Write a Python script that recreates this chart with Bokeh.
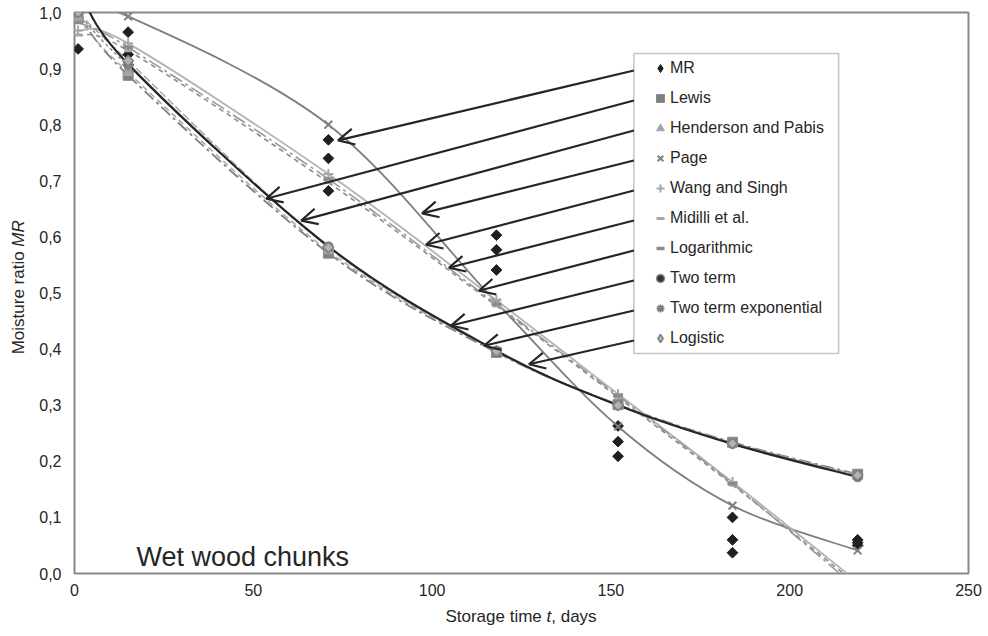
import numpy as np
from bokeh.plotting import figure
from bokeh.layouts import column, row
from bokeh.models import (Range1d, FixedTicker, CustomJSTickFormatter, Legend, LegendItem,
                          Label, Arrow, OpenHead, BoxAnnotation, ColumnDataSource)
from bokeh.embed import file_html
from bokeh.resources import INLINE

# ---------------- data ----------------
times = [1, 15, 71, 118, 152, 184, 219]
mr_obs = [
    [1.000, 1.000, 0.935],
    [0.965, 0.925, 0.907],
    [0.773, 0.740, 0.682],
    [0.603, 0.577, 0.541],
    [0.263, 0.235, 0.209],
    [0.100, 0.060, 0.037],
    [0.060, 0.055, 0.050],
]
lewis = [1.000, 0.888, 0.571, 0.394, 0.301, 0.234, 0.177]
henderson = [0.990, 0.893, 0.575, 0.396, 0.301, 0.233, 0.176]
page = [1.000, 0.993, 0.800, 0.483, 0.262, 0.121, 0.041]
wang_singh = [0.968, 0.945, 0.712, 0.487, 0.320, 0.163, -0.015]
midilli = [0.960, 0.932, 0.697, 0.477, 0.314, 0.158, -0.020]
logarithmic = [0.982, 0.938, 0.703, 0.480, 0.317, 0.160, -0.027]
two_term = [1.045, 0.908, 0.583, 0.397, 0.300, 0.231, 0.172]
two_term_exp = [1.000, 0.905, 0.582, 0.397, 0.300, 0.232, 0.174]
logistic = [1.000, 0.914, 0.581, 0.396, 0.300, 0.232, 0.175]

series_names = ["MR", "Lewis", "Henderson and Pabis", "Page", "Wang and Singh",
                "Midilli et al.", "Logarithmic", "Two term", "Two term exponential", "Logistic"]

# where the legend arrows point (storage time, MR)
arrow_tip_t = [73.7, 53.6, 63.4, 97.2, 98.3, 104.7, 113.1, 105.3, 114.5, 127.1]
arrow_tip_mr = [0.772, 0.668, 0.629, 0.642, 0.586, 0.545, 0.504, 0.442, 0.406, 0.373]

x_ticks = [0, 50, 100, 150, 200, 250]
y_ticks = [0.0, 0.1, 0.2, 0.3, 0.4, 0.5, 0.6, 0.7, 0.8, 0.9, 1.0]

# ---------------- layout (pixels) ----------------
W, H = 988, 636
YLAB_W = 36            # strip holding the y-axis title
XLAB_H = 33            # strip holding the x-axis title
PW, PH = W - YLAB_W, H - XLAB_H
BL, BR, BT, BB = 73 - YLAB_W, 20, 12, 30
FW, FH = PW - BL - BR, PH - BT - BB
FRAME_L = YLAB_W + BL  # frame left in page pixels
X0, X1, Y0, Y1 = 0, 250, 0, 1


def px2x(px):
    return X0 + (px - FRAME_L) * (X1 - X0) / FW


def px2y(py):
    return Y0 + (BT + FH - py) * (Y1 - Y0) / FH


FONT = "Liberation Sans"
TXT = "#262626"

p = figure(width=PW, height=PH, x_range=Range1d(X0, X1), y_range=Range1d(Y0, Y1),
           output_backend="svg", toolbar_location=None,
           min_border_left=BL, min_border_right=BR, min_border_top=BT, min_border_bottom=BB)
p.background_fill_color = "white"
p.border_fill_color = "white"
p.outline_line_color = "#898989"
p.outline_line_width = 2
p.xgrid.visible = False
p.ygrid.visible = False

p.xaxis.ticker = FixedTicker(ticks=x_ticks)
p.yaxis.ticker = FixedTicker(ticks=y_ticks)
p.yaxis.formatter = CustomJSTickFormatter(code="return tick.toFixed(1).replace('.', ',');")
for ax in (p.xaxis, p.yaxis):
    ax.axis_line_color = None
    ax.major_tick_line_color = None
    ax.minor_tick_line_color = None
    ax.major_tick_out = 0
    ax.major_tick_in = 0
    ax.minor_tick_out = 0
    ax.major_label_text_font = FONT
    ax.major_label_text_font_size = "16px"
    ax.major_label_text_color = TXT
p.yaxis.major_label_standoff = 13
p.xaxis.major_label_standoff = 10


def smooth(xs, ys):
    n = len(xs)
    P = list(zip(xs, ys))
    d = dict(x0=[], y0=[], x1=[], y1=[], cx0=[], cy0=[], cx1=[], cy1=[])
    for i in range(n - 1):
        a = P[max(i - 1, 0)]
        b = P[i]
        c = P[i + 1]
        e = P[min(i + 2, n - 1)]
        d["x0"].append(b[0]); d["y0"].append(b[1])
        d["x1"].append(c[0]); d["y1"].append(c[1])
        d["cx0"].append(b[0] + (c[0] - a[0]) / 6); d["cy0"].append(b[1] + (c[1] - a[1]) / 6)
        d["cx1"].append(c[0] - (e[0] - b[0]) / 6); d["cy1"].append(c[1] - (e[1] - b[1]) / 6)
    return ColumnDataSource(d)


line_specs = [
    (lewis, "#7f7f7f", 1.8, "12 4 3 4"),
    (henderson, "#a6a6a6", 1.5, "6 4"),
    (page, "#7f7f7f", 1.8, "solid"),
    (wang_singh, "#b3b3b3", 1.8, "solid"),
    (midilli, "#8c8c8c", 1.6, "5 4"),
    (logarithmic, "#999999", 1.6, "14 4 3 4"),
    (two_term_exp, "#8c8c8c", 1.5, "3 3"),
    (logistic, "#a6a6a6", 1.5, "8 3"),
    (two_term, "#262626", 2.2, "solid"),
]
for vals, col, lw, dash in line_specs:
    p.bezier(x0="x0", y0="y0", x1="x1", y1="y1", cx0="cx0", cy0="cy0", cx1="cx1", cy1="cy1",
             source=smooth(times, vals), line_color=col, line_width=lw, line_dash=dash)

# ---------------- markers ----------------
mr_t = [t for t, grp in zip(times, mr_obs) for _ in grp]
mr_v = [v for grp in mr_obs for v in grp]

legend_renderers = []

# MR: the legend uses a (hidden, small) diamond renderer; the plot shows square diamonds
legend_renderers.append(p.scatter(mr_t, mr_v, marker="diamond", size=5,
                                  fill_color="#1f1f1f", line_color="#1f1f1f"))
p.scatter(mr_t, mr_v, marker="square", angle=np.pi / 4, size=7.6,
          fill_color="#1f1f1f", line_color="#1f1f1f")

marker_specs = [
    (lewis, dict(marker="square", size=10, fill_color="#7f7f7f", line_color="#8c8c8c", line_width=1)),
    (henderson, dict(marker="triangle", size=10, fill_color="#a6a6a6", line_color="#a6a6a6", line_width=1)),
    (page, dict(marker="x", size=11, line_color="#7f7f7f", line_width=2)),
    (wang_singh, dict(marker="cross", size=10, line_color="#a6a6a6", line_width=2)),
    (midilli, dict(marker="dash", size=8, line_color="#a6a6a6", line_width=3)),
    (logarithmic, dict(marker="dash", size=10, line_color="#8c8c8c", line_width=3.5)),
    (two_term, dict(marker="circle", size=9, fill_color="#333333", line_color="#8c8c8c", line_width=1.5)),
    (two_term_exp, dict(marker="asterisk", size=10, line_color="#7f7f7f", line_width=2)),
]
for vals, kw in marker_specs:
    legend_renderers.append(p.scatter(times, vals, **kw))

# Logistic: same trick
legend_renderers.append(p.scatter(times, logistic, marker="diamond", size=5,
                                  fill_color="#b3b3b3", line_color="#7f7f7f", line_width=1.5))
p.scatter(times, logistic, marker="square", angle=np.pi / 4, size=7.4,
          fill_color="#b3b3b3", line_color="#7f7f7f", line_width=1.5)

# ---------------- legend ----------------
LEG_LEFT, LEG_TOP, ROW = 649, 53, 30
legend = Legend(items=[LegendItem(label=n, renderers=[r]) for n, r in zip(series_names, legend_renderers)],
                location=(LEG_LEFT - FRAME_L, BT + FH - (LEG_TOP + ROW * len(series_names))),
                orientation="vertical", glyph_width=20, glyph_height=ROW, label_height=ROW,
                spacing=0, padding=0, margin=0, label_standoff=0,
                label_text_font=FONT, label_text_font_size="16px", label_text_color=TXT,
                label_text_baseline="middle",
                border_line_color=None, background_fill_alpha=0)
p.add_layout(legend)

BOX_L, BOX_R, BOX_T, BOX_B = 633, 838, 53, 353
p.add_layout(BoxAnnotation(left=px2x(BOX_L), right=px2x(BOX_R), top=px2y(BOX_T), bottom=px2y(BOX_B),
                           fill_alpha=0, line_color="#3c3c3c", line_width=1.5))

# ---------------- arrows ----------------
arr_src = ColumnDataSource(dict(
    xs=[px2x(BOX_L)] * len(arrow_tip_t),
    ys=[px2y(LEG_TOP + ROW * i + ROW / 2 + 2) for i in range(len(arrow_tip_t))],
    xe=arrow_tip_t, ye=arrow_tip_mr))
p.add_layout(Arrow(end=OpenHead(size=16, line_width=2.2, line_color="#262626"), source=arr_src,
                   x_start="xs", y_start="ys", x_end="xe", y_end="ye",
                   line_width=2.2, line_color="#262626"))

p.add_layout(Label(x=px2x(135), y=px2y(556), text="Wet wood chunks", text_font=FONT,
                   text_font_size="27px", text_color=TXT, text_baseline="alphabetic"))

# ---------------- axis titles (separate strips so they are not clipped) ----------------
AX_FS = 17


def strip(w, h):
    f = figure(width=w, height=h, x_range=Range1d(0, w), y_range=Range1d(0, h),
               output_backend="svg", toolbar_location=None, min_border=0,
               x_axis_type=None, y_axis_type=None)
    f.outline_line_color = None
    f.xgrid.visible = False
    f.ygrid.visible = False
    f.background_fill_color = "white"
    f.border_fill_color = "white"
    return f


# y title strip: the two parts meet at a junction, each aligned to it
ys_fig = strip(YLAB_W, PH)
cy = BT + FH / 2
GAP = 5
v1, v2 = 6.057 * AX_FS, 1.555 * AX_FS
start = cy + (v1 + GAP + v2) / 2          # page y of the bottom of the title
junction = start - v1                      # page y where "Moisture ratio" ends
ys_fig.add_layout(Label(x=18, y=PH - junction, text="Moisture ratio", angle=np.pi / 2, text_font=FONT,
                        text_font_size=f"{AX_FS}px", text_color=TXT, text_baseline="middle",
                        text_align="right"))
ys_fig.add_layout(Label(x=18, y=PH - (junction - GAP), text="MR", angle=np.pi / 2, text_font=FONT,
                        text_font_size=f"{AX_FS}px", text_font_style="italic", text_color=TXT,
                        text_baseline="middle", text_align="left"))

# x title strip
xs_fig = strip(W, XLAB_H)
cx = FRAME_L + FW / 2
w1, w2, w3 = 5.947 * AX_FS, 0.278 * AX_FS, 2.668 * AX_FS
sx = cx - (w1 + w2 + w3) / 2
yl = H - 616
xs_fig.add_layout(Label(x=sx, y=yl, text="Storage time", text_font=FONT, text_font_size=f"{AX_FS}px",
                        text_color=TXT, text_baseline="middle", text_align="left"))
xs_fig.add_layout(Label(x=sx + w1, y=yl, text="t", text_font=FONT, text_font_size=f"{AX_FS}px",
                        text_font_style="italic", text_color=TXT, text_baseline="middle",
                        text_align="left"))
xs_fig.add_layout(Label(x=sx + w1 + w2, y=yl, text=", days", text_font=FONT,
                        text_font_size=f"{AX_FS}px", text_color=TXT, text_baseline="middle",
                        text_align="left"))

layout = column(row(ys_fig, p, spacing=0), xs_fig, spacing=0)
open("out.html", "w").write(file_html(layout, INLINE))
